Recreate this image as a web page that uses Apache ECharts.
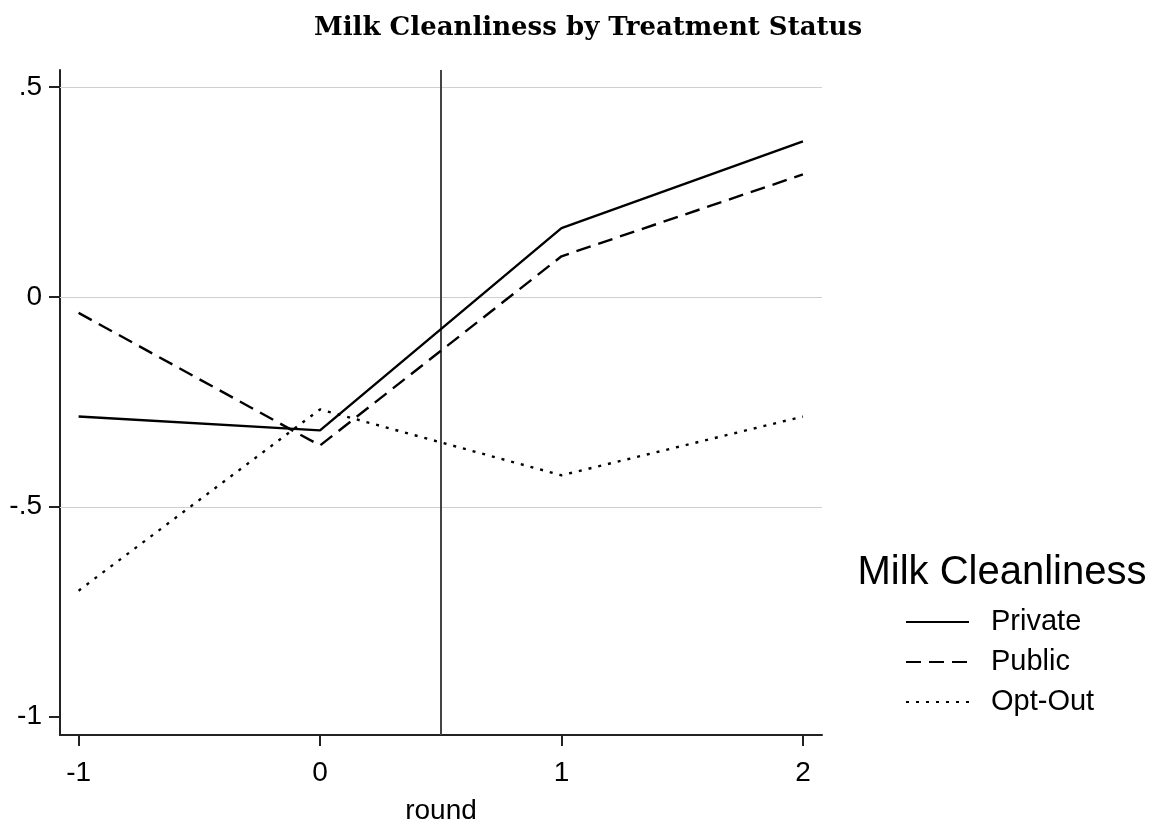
<!DOCTYPE html>
<html>
<head>
<meta charset="utf-8">
<script src="https://cdn.jsdelivr.net/npm/echarts@6/dist/echarts.min.js"></script>
<style>
    html, body { margin: 0; padding: 0; background: #fff; }
    #chart { width: 1158px; height: 830px; }
</style>
</head>
<body>
<div id="chart"></div>
<script>
// Rounds on the x axis
var rounds = [-1, 0, 1, 2];

// Mean milk cleanliness per treatment group
var privateVals = [-0.285, -0.318, 0.164, 0.371];
var publicVals = [-0.038, -0.354, 0.097, 0.292];
var optOutVals = [-0.700, -0.268, -0.425, -0.285];

// Tick labels
var xTicks = [-1, 0, 1, 2];
var yTicks = [-1, -0.5, 0, 0.5];
var yGrid = [-0.5, 0, 0.5];
var treatmentStart = 0.5;

function YLabel(v) {
    if (v == 0) return '0';
    if (v == 0.5) return '.5';
    if (v == -0.5) return '-.5';
    return String(v);
}

function Pairs(_vals) {
    var out = [];
    for (var i = 0; i < rounds.length; i++) out.push([rounds[i], _vals[i]]);
    return out;
}

var myChart = echarts.init(document.getElementById('chart'));

var lineBase = { color: '#000', width: 2.4 };

var option = {
    backgroundColor: '#fff',
    animation: false,
    title: [
        {
            text: 'Milk Cleanliness by Treatment Status',
            left: 583,
            textAlign: 'center',
            top: 10,
            textStyle: { fontFamily: 'DejaVu Serif', fontWeight: 'bold', fontSize: 26, color: '#000' }
        },
        {
            text: 'Milk Cleanliness',
            left: 997,
            textAlign: 'center',
            top: 548,
            textStyle: { fontFamily: 'Liberation Sans', fontWeight: 'normal', fontSize: 40, color: '#000' }
        }
    ],
    legend: {
        orient: 'vertical',
        left: 900,
        top: 602,
        itemWidth: 63,
        itemHeight: 14,
        itemGap: 10,
        itemStyle: { opacity: 0 },
        textStyle: { fontFamily: 'Liberation Sans', fontSize: 29, lineHeight: 30, color: '#000', padding: [0, 0, 0, 17] },
        data: ['Private', 'Public', 'Opt-Out']
    },
    grid: { left: 60, right: 336, top: 70, bottom: 93 },
    xAxis: {
        type: 'value',
        min: -1.077,
        max: 2.079,
        name: 'round',
        nameLocation: 'middle',
        nameGap: 62,
        nameTextStyle: { fontFamily: 'Liberation Sans', fontSize: 28, color: '#000' },
        axisLine: { show: true, onZero: false, lineStyle: { color: '#222', width: 2 } },
        axisTick: { show: true, length: 11, lineStyle: { color: '#222', width: 2 }, customValues: xTicks },
        axisLabel: { fontFamily: 'Liberation Sans', fontSize: 28, color: '#000', margin: 24, customValues: xTicks },
        splitLine: { show: false }
    },
    yAxis: {
        type: 'value',
        min: -1.044,
        max: 0.541,
        axisLine: { show: true, onZero: false, lineStyle: { color: '#222', width: 2 } },
        axisTick: { show: true, length: 11, lineStyle: { color: '#222', width: 2 }, customValues: yTicks },
        axisLabel: {
            fontFamily: 'Liberation Sans', fontSize: 28, color: '#000', margin: 18,
            customValues: yTicks,
            formatter: YLabel
        },
        splitLine: { show: false }
    },
    series: [
        {
            name: 'Private',
            type: 'line',
            symbol: 'none',
            data: Pairs(privateVals),
            itemStyle: { color: '#000' },
            lineStyle: Object.assign({ type: 'solid' }, lineBase),
            z: 5,
            markLine: {
                silent: true,
                symbol: 'none',
                label: { show: false },
                data: yGrid.map(function (v) {
                    return { yAxis: v, lineStyle: { color: '#cfcfcf', width: 1, type: 'solid' } };
                }).concat([
                    { xAxis: treatmentStart, lineStyle: { color: '#444', width: 2, type: 'solid' } }
                ]),
                z: 1
            }
        },
        {
            name: 'Public',
            type: 'line',
            symbol: 'none',
            data: Pairs(publicVals),
            itemStyle: { color: '#000' },
            lineStyle: Object.assign({ type: [15, 8] }, lineBase),
            z: 5
        },
        {
            name: 'Opt-Out',
            type: 'line',
            symbol: 'none',
            data: Pairs(optOutVals),
            itemStyle: { color: '#000' },
            lineStyle: Object.assign({ type: [3, 7] }, lineBase),
            z: 5
        }
    ]
};

myChart.setOption(option);
</script>
</body>
</html>
